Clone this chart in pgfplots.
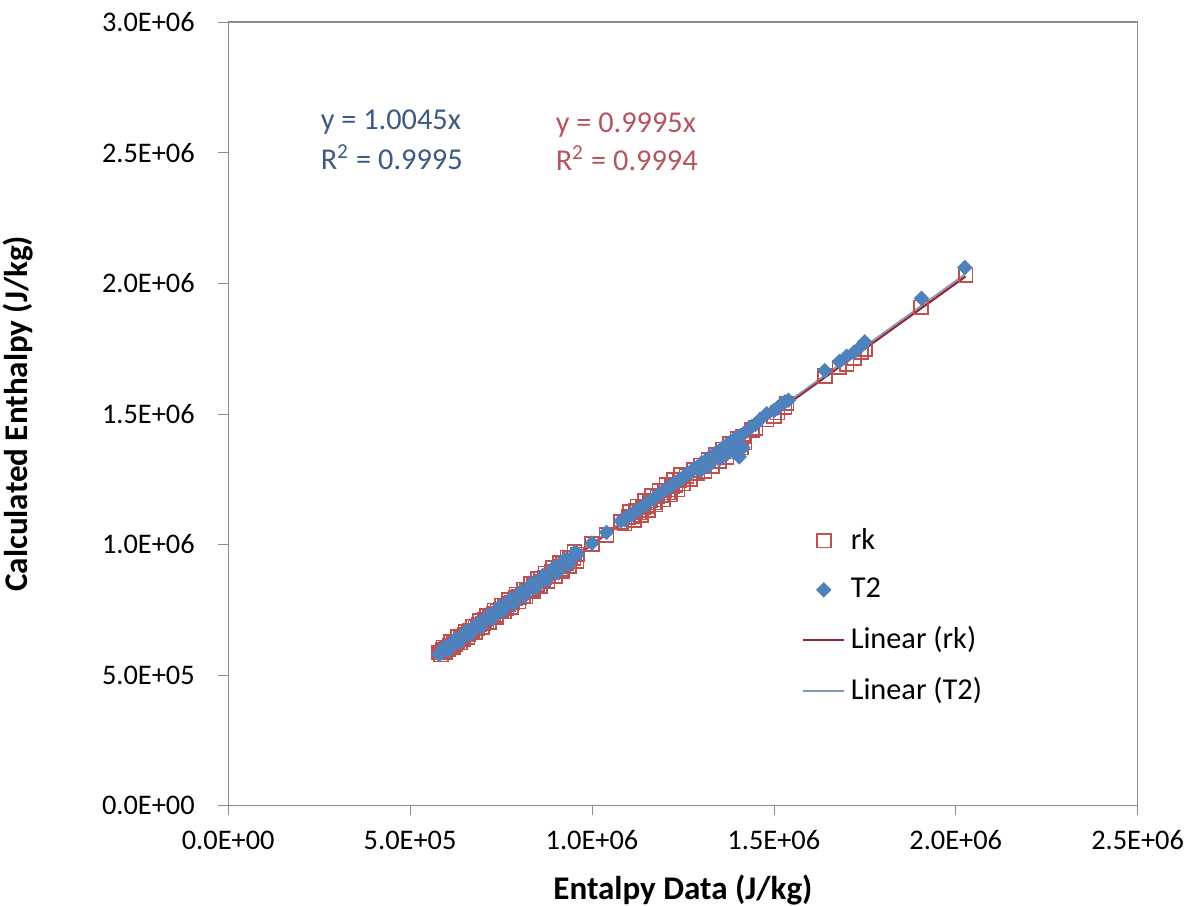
\documentclass[border=0pt]{standalone}
\usepackage{pgfplots}
\pgfplotsset{compat=1.18}
\usepackage{fontspec}
\setmainfont{Carlito}
\definecolor{rkred}{RGB}{192,80,77}
\definecolor{tblue}{RGB}{79,129,189}
\definecolor{rkline}{RGB}{150,40,45}
\definecolor{tline}{RGB}{135,150,190}
\definecolor{eqblue}{RGB}{60,90,130}
\definecolor{eqred}{RGB}{180,85,95}
\definecolor{axgray}{RGB}{140,140,140}
\begin{document}
\begin{tikzpicture}
\path[use as bounding box] (-82.8pt,-36.3pt) rectangle (349pt,292.3pt);
\begin{axis}[
  at={(0,0)}, anchor=south west,
  scale only axis, width=330pt, height=284.3pt,
  xmin=0, xmax=2.5e6, ymin=0, ymax=3e6,
  xtick={0,500000,1000000,1500000,2000000,2500000},
  xticklabels={0.0E+00,5.0E+05,1.0E+06,1.5E+06,2.0E+06,2.5E+06},
  ytick={0,500000,1000000,1500000,2000000,2500000,3000000},
  yticklabels={0.0E+00,5.0E+05,1.0E+06,1.5E+06,2.0E+06,2.5E+06,3.0E+06},
  scaled ticks=false,
  tick align=outside, major tick length=3.6pt,
  tick pos=left,
  axis line style={axgray}, tick style={axgray},
  ticklabel style={font=\fontsize{10.3}{12}\selectfont},
  yticklabel style={xshift=-5pt},
  xticklabel style={yshift=-2pt},
  xlabel={Entalpy Data (J/kg)}, ylabel={Calculated Enthalpy (J/kg)},
  label style={font=\bfseries\fontsize{12}{14}\selectfont},
  xlabel style={yshift=-2pt},
  ylabel shift=18pt,
  legend image code/.code={\draw[mark repeat=2,mark phase=2] plot coordinates {(0cm,0cm) (0.26cm,0cm) (0.52cm,0cm)};},
  legend style={at={(0.6216,0.369)}, anchor=north west, draw=none, fill=none,
    font=\fontsize{11}{13}\selectfont, row sep=5pt},
  legend cell align=left,
]
\addplot[only marks, mark=square, mark size=2.5pt, rkred, mark options={line width=0.6pt}] coordinates {
(580000,585000) (585000,578000) (590000,596000) (595000,590000) (600000,603000)
(605000,598000) (610000,612000) (615000,609000) (620000,626000) (625000,619000)
(630000,628000) (640000,645000) (645000,637000) (650000,654000) (660000,656000)
(665000,670000) (670000,664000) (680000,683000) (685000,679000) (690000,694000)
(700000,697000) (705000,710000) (710000,703000) (720000,722000) (730000,734000)
(735000,728000) (740000,744000) (750000,748000) (760000,765000) (765000,757000)
(770000,772000) (780000,778000) (790000,795000) (800000,798000) (810000,804000)
(820000,826000) (830000,828000) (835000,822000) (840000,845000) (850000,848000)
(860000,866000) (865000,857000) (870000,873000) (880000,878000) (890000,895000)
(900000,896000) (910000,915000) (915000,905000) (920000,924000) (930000,928000)
(940000,946000) (950000,947000) (960000,962000) (1000000,1002000) (1040000,1036000)
(1080000,1085000) (1090000,1080000) (1100000,1104000) (1110000,1106000) (1120000,1127000)
(1130000,1122000) (1140000,1143000) (1150000,1146000) (1160000,1168000) (1170000,1160000)
(1180000,1183000) (1190000,1187000) (1200000,1206000) (1210000,1198000) (1220000,1224000)
(1230000,1226000) (1240000,1246000) (1250000,1232000) (1260000,1262000) (1270000,1250000)
(1280000,1284000) (1290000,1272000) (1300000,1302000) (1310000,1280000) (1320000,1324000)
(1330000,1300000) (1340000,1343000) (1350000,1320000) (1360000,1364000) (1370000,1335000)
(1380000,1384000) (1390000,1355000) (1400000,1404000) (1410000,1370000) (1415000,1414000)
(1420000,1390000) (1440000,1438000) (1450000,1445000) (1480000,1478000) (1500000,1490000)
(1510000,1505000) (1530000,1525000) (1535000,1540000) (1640000,1645000) (1680000,1678000)
(1700000,1690000) (1720000,1712000) (1740000,1735000) (1750000,1748000) (1905000,1908000)
(2027000,2030000)
(592000,606000) (612000,626000) (632000,646000) (652000,666000) (672000,686000)
(692000,706000) (712000,727000) (732000,747000) (752000,767000) (772000,788000)
(792000,808000) (812000,828000) (832000,848000) (852000,869000) (872000,889000)
(892000,909000) (912000,930000) (932000,950000) (952000,970000)
(598000,585000) (618000,605000) (638000,624000) (658000,644000) (678000,663000)
(698000,683000) (718000,702000) (738000,722000) (758000,742000) (778000,761000)
(798000,781000) (818000,800000) (838000,820000) (858000,840000) (878000,859000)
(898000,879000) (918000,898000) (938000,918000) (958000,937000)
(1105000,1125000) (1125000,1145000) (1145000,1166000) (1165000,1186000) (1185000,1206000)
(1205000,1227000) (1225000,1247000) (1245000,1266000)
(1115000,1093000) (1135000,1112000) (1155000,1132000) (1175000,1152000) (1195000,1171000)
(1215000,1191000) (1235000,1210000)
};
\addlegendentry{rk}
\addplot[only marks, mark=square*, mark size=1.8pt, tblue, mark options={rotate=45}] coordinates {
(580000,578000) (585000,588000) (590000,592000) (600000,601000) (610000,614000)
(620000,622000) (630000,634000) (640000,642000) (650000,655000) (660000,662000)
(670000,674000) (680000,682000) (690000,695000) (700000,702000) (710000,715000)
(720000,722000) (730000,735000) (740000,742000) (750000,756000) (760000,762000)
(770000,775000) (780000,783000) (790000,796000) (800000,803000) (810000,815000)
(820000,823000) (830000,836000) (840000,843000) (850000,856000) (860000,863000)
(870000,876000) (880000,883000) (890000,896000) (900000,903000) (910000,916000)
(920000,923000) (930000,936000) (940000,943000) (950000,956000) (960000,962000)
(1000000,1005000) (1040000,1046000) (1080000,1090000) (1090000,1094000) (1100000,1107000)
(1110000,1114000) (1120000,1128000) (1130000,1134000) (1140000,1147000) (1150000,1155000)
(1160000,1167000) (1170000,1176000) (1180000,1188000) (1190000,1196000) (1200000,1208000)
(1210000,1216000) (1220000,1228000) (1230000,1236000) (1240000,1248000) (1250000,1255000)
(1260000,1268000) (1270000,1275000) (1280000,1290000) (1290000,1290000) (1300000,1310000)
(1300000,1285000) (1310000,1318000) (1320000,1330000) (1320000,1300000) (1330000,1338000)
(1340000,1350000) (1350000,1325000) (1350000,1358000) (1360000,1370000) (1370000,1345000)
(1370000,1380000) (1380000,1390000) (1390000,1360000) (1390000,1400000) (1400000,1410000)
(1405000,1335000) (1410000,1418000) (1415000,1370000) (1420000,1428000) (1440000,1452000)
(1450000,1460000) (1460000,1475000) (1480000,1500000) (1500000,1512000) (1510000,1522000)
(1520000,1535000) (1530000,1545000) (1540000,1552000) (1640000,1665000) (1680000,1700000)
(1700000,1720000) (1720000,1735000) (1740000,1760000) (1750000,1775000) (1906000,1942000)
(2025000,2060000)
(595000,608000) (625000,638000) (655000,668000) (685000,698000) (715000,729000)
(745000,759000) (775000,790000) (805000,820000) (835000,851000) (865000,881000)
(895000,912000) (925000,942000) (955000,972000)
(605000,594000) (635000,624000) (665000,654000) (695000,684000) (725000,714000)
(755000,744000) (785000,773000) (815000,803000) (845000,833000) (875000,862000)
(905000,892000) (935000,922000)
};
\addlegendentry{T2}
\addplot[rkline, line width=0.8pt] coordinates {(580000,579710) (2027000,2025987)};
\addlegendentry{Linear (rk)}
\addplot[tline, line width=0.6pt] coordinates {(580000,582610) (2027000,2036122)};
\addlegendentry{Linear (T2)}
\node[anchor=west, text=eqblue, font=\fontsize{11}{13}\selectfont, inner sep=0pt] at (axis cs:253000,2617000) {y = 1.0045x};
\node[anchor=west, text=eqblue, font=\fontsize{11}{13}\selectfont, inner sep=0pt] at (axis cs:253000,2483000) {R\textsuperscript{2} = 0.9995};
\node[anchor=west, text=eqred, font=\fontsize{11}{13}\selectfont, inner sep=0pt] at (axis cs:899000,2605000) {y = 0.9995x};
\node[anchor=west, text=eqred, font=\fontsize{11}{13}\selectfont, inner sep=0pt] at (axis cs:899000,2479000) {R\textsuperscript{2} = 0.9994};
\end{axis}
\end{tikzpicture}
\end{document}
